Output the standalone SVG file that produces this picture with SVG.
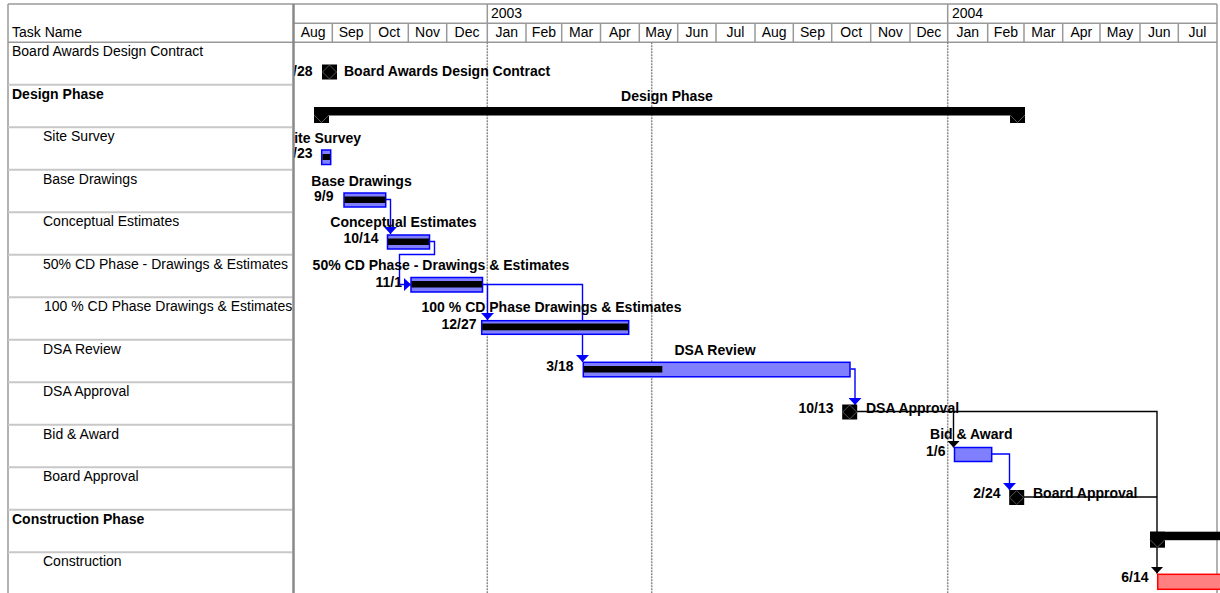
<svg xmlns="http://www.w3.org/2000/svg" xmlns:xlink="http://www.w3.org/1999/xlink" width="1220" height="593" viewBox="0 0 1220 593">
<style>
.t{font-family:"Liberation Sans",Arial,sans-serif;font-size:14px;fill:#000}
.b{font-weight:bold}
.m{text-anchor:middle}
.e{text-anchor:end}
.hl{stroke:#999;stroke-width:1.5;fill:none}
.rl{stroke:#c8c8c8;stroke-width:2}
.gl{stroke:#8a8a8a;stroke-width:1.5;stroke-dasharray:2 1}
.task{fill:#8080ff;stroke:#0000ff;stroke-width:1.5}
.crit{fill:#ff8080;stroke:#ff0000;stroke-width:1.5}
.prog{fill:#000}
.sum{fill:#000}
.cb{stroke:#0000ff;stroke-width:1.4;fill:none}
.ck{stroke:#000;stroke-width:1.4;fill:none}
</style>
<defs>
<clipPath id="chartClip"><rect x="294.5" y="42" width="926" height="551"/></clipPath>
<clipPath id="leftClip"><rect x="8" y="42" width="284" height="551"/></clipPath>
<g id="ms"><rect x="-7.5" y="-7.5" width="15" height="15" fill="#000"/><polygon points="0,-7 7,0 0,7 -7,0" fill="none" stroke="#555" stroke-width="1"/></g>
<g id="se"><rect x="0" y="0" width="15" height="16" fill="#000"/><polyline points="0,8 7.5,15.5 15,8" fill="none" stroke="#555" stroke-width="1"/></g>
<marker id="ab" viewBox="0 0 7 13" refX="7" refY="6.5" markerWidth="7" markerHeight="13" markerUnits="userSpaceOnUse" orient="auto"><path d="M0,0 L7,6.5 L0,13 z" fill="#0000ff"/></marker>
<marker id="ak" viewBox="0 0 7 13" refX="7" refY="6.5" markerWidth="7" markerHeight="13" markerUnits="userSpaceOnUse" orient="auto"><path d="M0,0 L7,6.5 L0,13 z" fill="#000"/></marker>
</defs>
<rect x="0" y="0" width="1220" height="593" fill="#fff"/>

<g id="table">
<line class="hl" x1="8" y1="4" x2="1217" y2="4"/>
<line class="hl" x1="8" y1="4" x2="8" y2="593"/>
<line class="hl" x1="8" y1="42.3" x2="293" y2="42.3"/>
<line class="hl" x1="294" y1="23.3" x2="1217" y2="23.3"/>
<line class="hl" x1="294" y1="42.3" x2="1217" y2="42.3"/>
<line stroke="#888" stroke-width="2.5" x1="293.5" y1="4" x2="293.5" y2="593"/>
<line class="hl" x1="1217" y1="4" x2="1217" y2="593"/>
<g class="rl">
<line x1="8" y1="84.8" x2="292" y2="84.8"/><line x1="8" y1="127.3" x2="292" y2="127.3"/><line x1="8" y1="169.8" x2="292" y2="169.8"/><line x1="8" y1="212.3" x2="292" y2="212.3"/><line x1="8" y1="254.8" x2="292" y2="254.8"/><line x1="8" y1="297.3" x2="292" y2="297.3"/><line x1="8" y1="339.8" x2="292" y2="339.8"/><line x1="8" y1="382.3" x2="292" y2="382.3"/><line x1="8" y1="424.8" x2="292" y2="424.8"/><line x1="8" y1="467.3" x2="292" y2="467.3"/><line x1="8" y1="509.8" x2="292" y2="509.8"/><line x1="8" y1="552.3" x2="292" y2="552.3"/>
</g>
<text class="t" x="12" y="37">Task Name</text>
<g clip-path="url(#leftClip)">
<text class="t" x="12" y="56.3">Board Awards Design Contract</text>
<text class="t b" x="12" y="98.8">Design Phase</text>
<text class="t" x="43" y="141.3">Site Survey</text>
<text class="t" x="43" y="183.8">Base Drawings</text>
<text class="t" x="43" y="226.3">Conceptual Estimates</text>
<text class="t" x="43" y="268.8">50% CD Phase - Drawings &amp; Estimates</text>
<text class="t" x="44" y="311.3">100 % CD Phase Drawings &amp; Estimates</text>
<text class="t" x="43" y="353.8">DSA Review</text>
<text class="t" x="43" y="396.3">DSA Approval</text>
<text class="t" x="43" y="438.8">Bid &amp; Award</text>
<text class="t" x="43" y="481.3">Board Approval</text>
<text class="t b" x="12" y="523.8">Construction Phase</text>
<text class="t" x="43" y="566.3">Construction</text>
</g>
</g>

<g id="timescale">
<line class="hl" x1="487.3" y1="4" x2="487.3" y2="42.3"/>
<line class="hl" x1="947.7" y1="4" x2="947.7" y2="42.3"/>
<g class="hl">
<line x1="332.3" y1="23.3" x2="332.3" y2="42.3"/><line x1="370" y1="23.3" x2="370" y2="42.3"/><line x1="408.3" y1="23.3" x2="408.3" y2="42.3"/><line x1="446.7" y1="23.3" x2="446.7" y2="42.3"/><line x1="526" y1="23.3" x2="526" y2="42.3"/><line x1="561.7" y1="23.3" x2="561.7" y2="42.3"/><line x1="600.5" y1="23.3" x2="600.5" y2="42.3"/><line x1="639.3" y1="23.3" x2="639.3" y2="42.3"/><line x1="677.7" y1="23.3" x2="677.7" y2="42.3"/><line x1="716" y1="23.3" x2="716" y2="42.3"/><line x1="755" y1="23.3" x2="755" y2="42.3"/><line x1="793.3" y1="23.3" x2="793.3" y2="42.3"/><line x1="831.7" y1="23.3" x2="831.7" y2="42.3"/><line x1="870.7" y1="23.3" x2="870.7" y2="42.3"/><line x1="910" y1="23.3" x2="910" y2="42.3"/><line x1="987.7" y1="23.3" x2="987.7" y2="42.3"/><line x1="1024" y1="23.3" x2="1024" y2="42.3"/><line x1="1062.7" y1="23.3" x2="1062.7" y2="42.3"/><line x1="1100" y1="23.3" x2="1100" y2="42.3"/><line x1="1140" y1="23.3" x2="1140" y2="42.3"/><line x1="1178.3" y1="23.3" x2="1178.3" y2="42.3"/>
</g>
<text class="t" x="491" y="18">2003</text>
<text class="t" x="952" y="18">2004</text>
<g class="t m">
<text x="313.2" y="37">Aug</text><text x="351.2" y="37">Sep</text><text x="389.2" y="37">Oct</text><text x="427.5" y="37">Nov</text><text x="467" y="37">Dec</text><text x="506.7" y="37">Jan</text><text x="543.9" y="37">Feb</text><text x="581.1" y="37">Mar</text><text x="619.9" y="37">Apr</text><text x="658.5" y="37">May</text><text x="696.9" y="37">Jun</text><text x="735.5" y="37">Jul</text><text x="774.2" y="37">Aug</text><text x="812.5" y="37">Sep</text><text x="851.2" y="37">Oct</text><text x="890.4" y="37">Nov</text><text x="928.9" y="37">Dec</text><text x="967.7" y="37">Jan</text><text x="1005.9" y="37">Feb</text><text x="1043.4" y="37">Mar</text><text x="1081.4" y="37">Apr</text><text x="1120" y="37">May</text><text x="1159.2" y="37">Jun</text><text x="1197.5" y="37">Jul</text>
</g>
<line class="gl" x1="487.3" y1="42.3" x2="487.3" y2="593"/>
<line class="gl" x1="651.7" y1="42.3" x2="651.7" y2="593"/>
<line class="gl" x1="947.7" y1="42.3" x2="947.7" y2="593"/>
</g>

<g id="connectors">
<path class="cb" d="M386,199.5 H390.5 V234" marker-end="url(#ab)"/>
<path class="cb" d="M429.5,241.5 H434.5 V254.5 H399.5 V284.5 H411" marker-end="url(#ab)"/>
<path class="cb" d="M482.5,284.5 H582.5 V362" marker-end="url(#ab)"/>
<path class="cb" d="M487.5,284.5 V320" marker-end="url(#ab)"/>
<path class="cb" d="M850.5,369 H855 V405" marker-end="url(#ab)"/>
<path class="ck" d="M857,411.5 H1157 V573.5" marker-end="url(#ak)"/>
<path class="ck" d="M953.5,411.5 V447.5" marker-end="url(#ak)"/>
<path class="cb" d="M992,454 H1009.5 V490" marker-end="url(#ab)"/>
<path class="ck" d="M1024,497 H1157"/>
</g>

<g clip-path="url(#chartClip)">
<g id="n-board-awards">
<text class="t b e" x="312.5" y="76">8/28</text>
<use xlink:href="#ms" x="329.5" y="72"/>
<text class="t b" x="344" y="76">Board Awards Design Contract</text>
</g>
<g id="n-design-phase">
<text class="t b m" x="667" y="101">Design Phase</text>
<rect class="sum" x="314" y="107" width="711" height="8.5"/>
<use xlink:href="#se" x="314" y="107"/>
<use xlink:href="#se" x="1010" y="107"/>
</g>
<g id="n-site-survey">
<text class="t b m" x="323" y="143">Site Survey</text>
<text class="t b e" x="312.5" y="158">8/23</text>
<rect class="task" x="321.7" y="150" width="9" height="14.5"/>
<rect class="prog" x="322.5" y="154" width="7.5" height="6"/>
</g>
<g id="n-base-drawings">
<text class="t b m" x="361.5" y="186">Base Drawings</text>
<text class="t b e" x="333.5" y="201">9/9</text>
<rect class="task" x="344" y="193" width="41.7" height="14"/>
<rect class="prog" x="344.5" y="196.5" width="41" height="6.5"/>
</g>
<g id="n-conceptual">
<text class="t b m" x="403.5" y="227">Conceptual Estimates</text>
<text class="t b e" x="378.5" y="243">10/14</text>
<rect class="task" x="387.5" y="235" width="42" height="14"/>
<rect class="prog" x="388" y="238.5" width="41" height="6.5"/>
</g>
<g id="n-50cd">
<text class="t b m" x="441" y="269.5">50% CD Phase - Drawings &amp; Estimates</text>
<text class="t b e" x="402" y="287">11/1</text>
<rect class="task" x="411" y="277.5" width="71.5" height="14.5"/>
<rect class="prog" x="411.5" y="281" width="70.5" height="6.5"/>
</g>
<g id="n-100cd">
<text class="t b m" x="551.5" y="312">100 % CD Phase Drawings &amp; Estimates</text>
<text class="t b e" x="476.5" y="328.5">12/27</text>
<rect class="task" x="481.7" y="320.7" width="147" height="13.6"/>
<rect class="prog" x="482.2" y="323.5" width="146" height="6.8"/>
</g>
<g id="n-dsa-review">
<text class="t b m" x="715" y="355">DSA Review</text>
<text class="t b e" x="573.5" y="371">3/18</text>
<rect class="task" x="583.3" y="362.3" width="266.7" height="14.5"/>
<rect class="prog" x="583.8" y="366" width="78.5" height="6.5"/>
</g>
<g id="n-dsa-approval">
<text class="t b e" x="833.5" y="413">10/13</text>
<use xlink:href="#ms" x="849.7" y="412"/>
<text class="t b" x="866" y="413">DSA Approval</text>
</g>
<g id="n-bid-award">
<text class="t b m" x="971.3" y="438.5">Bid &amp; Award</text>
<text class="t b e" x="945.5" y="455.5">1/6</text>
<rect class="task" x="954.5" y="447.5" width="37.2" height="14"/>
</g>
<g id="n-board-approval">
<text class="t b e" x="1000.5" y="497.5">2/24</text>
<use xlink:href="#ms" x="1016.7" y="497.5"/>
<text class="t b" x="1033" y="497.5">Board Approval</text>
</g>
<g id="n-construction-phase">
<rect class="sum" x="1150" y="531.7" width="72" height="8.5"/>
<use xlink:href="#se" x="1150" y="531.7"/>
</g>
<g id="n-construction">
<text class="t b e" x="1148.5" y="582">6/14</text>
<rect class="crit" x="1157.7" y="574.3" width="64" height="15"/>
</g>
</g>
</svg>
